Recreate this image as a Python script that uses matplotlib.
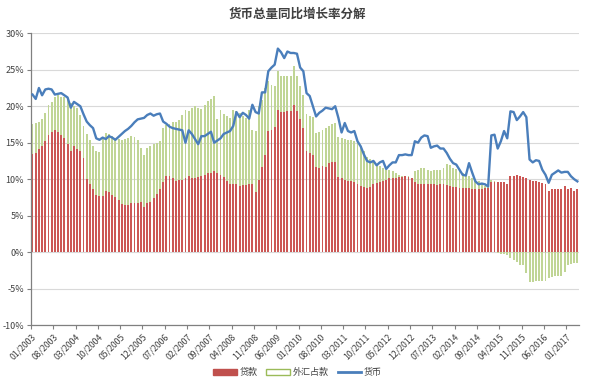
import numpy as np
import matplotlib
matplotlib.use("Agg")
import matplotlib.pyplot as plt
from matplotlib.patches import Patch
from matplotlib.lines import Line2D

plt.rcParams['font.family'] = ['Noto Sans CJK SC', 'DejaVu Sans']

# Monthly, 01/2003 .. 04/2017 (172 months)
loan = [13.4, 13.6, 14.2, 14.5, 15.2, 16.1, 16.4, 16.7, 16.4, 16.1, 15.7, 14.8,
        13.8, 14.5, 14.1, 13.9, 12.9, 10.0, 9.3, 8.6, 7.9, 7.7, 7.7, 8.4,
        8.3, 7.9, 7.6, 7.2, 6.6, 6.5, 6.5, 6.7, 6.8, 6.8, 6.9, 6.2,
        6.8, 6.9, 7.4, 8.0, 8.7, 9.6, 10.5, 10.4, 10.2, 9.8, 9.9, 9.9,
        10.1, 10.5, 10.2, 10.2, 10.3, 10.4, 10.6, 10.8, 10.8, 11.1, 10.9, 10.6,
        10.3, 9.7, 9.3, 9.3, 9.3, 9.0, 9.2, 9.2, 9.3, 9.3, 8.3, 9.9,
        11.7, 13.3, 16.6, 16.8, 17.2, 19.5, 19.2, 19.2, 19.3, 19.3, 20.2, 19.3,
        18.2, 17.0, 13.8, 13.6, 13.3, 11.7, 11.6, 11.8, 11.7, 12.2, 12.4, 12.4,
        10.3, 10.1, 9.9, 9.8, 9.7, 9.6, 9.3, 9.1, 8.9, 8.8, 8.9, 9.3,
        9.5, 9.6, 9.8, 9.9, 10.1, 10.2, 10.2, 10.3, 10.3, 10.4, 10.3, 10.1,
        9.6, 9.3, 9.3, 9.3, 9.3, 9.4, 9.3, 9.2, 9.3, 9.3, 9.2, 9.0,
        8.9, 8.9, 8.8, 8.8, 8.8, 8.8, 8.7, 8.7, 8.6, 8.7, 8.8, 8.8,
        9.6, 9.6, 9.6, 9.6, 9.6, 9.3, 10.4, 10.5, 10.6, 10.5, 10.3, 10.2,
        9.9, 9.8, 9.7, 9.6, 9.5, 9.3, 8.4, 8.6, 8.6, 8.7, 8.7, 9.0,
        8.6, 8.8, 8.4, 8.7]

fx = [4.1, 4.1, 3.7, 3.7, 3.9, 4.1, 4.2, 4.5, 5.1, 5.2, 5.5, 6.1,
      6.7, 5.6, 5.7, 4.9, 4.4, 6.2, 6.1, 5.9, 6.0, 6.0, 8.1, 7.9,
      7.9, 8.0, 8.0, 8.3, 8.8, 9.0, 9.2, 9.2, 9.0, 8.6, 7.4, 7.1,
      7.5, 7.7, 7.4, 7.0, 6.6, 7.4, 6.9, 7.2, 7.6, 8.1, 8.2, 8.9,
      9.4, 8.9, 9.6, 9.9, 9.5, 9.2, 9.6, 9.9, 10.2, 10.3, 7.3, 8.9,
      8.6, 9.0, 9.1, 10.2, 10.0, 10.1, 9.5, 9.2, 10.2, 7.5, 8.3, 10.1,
      9.2, 9.2, 6.8, 6.1, 5.6, 5.3, 5.0, 4.9, 4.8, 4.9, 5.3, 4.9,
      4.6, 4.5, 5.2, 5.1, 5.2, 4.6, 4.8, 4.9, 5.3, 5.1, 5.2, 5.3,
      5.5, 5.5, 5.6, 5.6, 5.7, 5.7, 5.9, 5.5, 4.9, 4.3, 3.8, 3.1,
      2.6, 2.2, 1.7, 1.4, 1.1, 0.9, 0.7, 0.3, 0.1, 0.1, 0.1, 0.1,
      1.5, 2.0, 2.2, 2.3, 2.0, 1.7, 1.9, 2.0, 1.9, 2.2, 2.9, 3.0,
      2.7, 2.5, 2.3, 2.0, 1.8, 1.6, 1.5, 1.2, 1.1, 0.6, 0.2, 0.1,
      0.3, 0.1, -0.1, -0.2, -0.3, -0.4, -0.8, -1.1, -1.3, -1.7, -1.8, -2.8,
      -4.1, -4.1, -4.0, -4.0, -4.0, -3.9, -3.6, -3.4, -3.3, -3.3, -3.3, -2.7,
      -1.7, -1.6, -1.5, -1.5]

money = [21.6, 21.0, 22.5, 21.5, 22.3, 22.4, 22.3, 21.6, 21.7, 21.8, 21.5, 21.2,
         19.8, 20.6, 20.3, 20.0, 18.9, 17.9, 17.4, 17.0, 15.6, 15.4, 15.7, 15.5,
         15.9, 15.7, 15.4, 15.8, 16.2, 16.6, 16.9, 17.3, 17.8, 18.2, 18.3, 18.4,
         18.8, 19.0, 18.7, 18.9, 19.0, 17.9, 17.6, 17.2, 17.0, 16.9, 16.8, 16.7,
         15.0, 16.7, 16.2, 15.5, 14.8, 15.9, 15.9, 16.2, 16.5, 15.0, 15.3, 15.6,
         16.2, 16.4, 16.6, 17.3, 19.2, 18.5, 19.1, 18.8, 18.3, 20.2, 19.2, 19.0,
         21.9, 21.9, 24.8, 25.3, 25.7, 27.9, 27.4, 26.6, 27.5, 27.3, 27.3, 27.2,
         25.3, 24.8, 21.8, 21.4, 20.0, 18.6, 19.1, 19.4, 19.8, 19.7, 19.6, 20.0,
         18.4, 16.4, 17.7, 16.6, 16.4, 16.6, 15.2, 14.5, 13.4, 12.5, 12.3, 12.5,
         11.9, 12.3, 12.5, 11.4, 11.9, 12.3, 12.3, 13.3, 13.3, 13.4, 13.3, 13.3,
         15.2, 15.0, 15.7, 16.0, 15.9, 14.3, 14.5, 14.6, 14.2, 14.2, 13.6, 12.8,
         12.2, 12.0, 11.3, 10.6, 10.5, 12.2, 10.9, 9.7, 9.3, 9.4, 9.3, 9.0,
         16.0, 16.1, 14.2, 15.2, 16.6, 15.6, 19.3, 19.2, 18.1, 18.6, 19.2, 18.5,
         12.7, 12.3, 12.6, 12.5, 11.3, 10.6, 9.5, 10.6, 10.9, 11.2, 10.9, 11.0,
         11.0, 10.4, 10.0, 9.7]

tick_labels = ['01/2003', '08/2003', '03/2004', '10/2004', '05/2005', '12/2005',
               '07/2006', '02/2007', '09/2007', '04/2008', '11/2008', '06/2009',
               '01/2010', '08/2010', '03/2011', '10/2011', '05/2012', '12/2012',
               '07/2013', '02/2014', '09/2014', '04/2015', '11/2015', '06/2016',
               '01/2017']
y_ticks = [-10, -5, 0, 5, 10, 15, 20, 25, 30]

loan_a = np.array(loan)
fx_a = np.array(fx)
money_a = np.array(money)
x = np.arange(len(loan_a))

fig = plt.figure(figsize=(5.95, 3.87), dpi=100)
ax = fig.add_axes([0.052, 0.160, 0.921, 0.754])

red_face = '#cc5755'
red_edge = '#c0504d'
green_face = '#c0d595'
blue = '#4a7ebb'

ax.bar(x, loan_a, width=0.6, color=red_face, linewidth=0, zorder=2)
fx_bottom = np.where(fx_a >= 0, loan_a, 0)
ax.bar(x, fx_a, bottom=fx_bottom, width=0.6, color=green_face, linewidth=0, zorder=2)
ax.plot(x, money_a, color=blue, linewidth=1.7, zorder=3, solid_joinstyle='round')

ax.set_xlim(-0.5, len(x) - 0.5)
ax.set_ylim(-10, 30)
ax.set_yticks(y_ticks)
ax.set_yticklabels([f'{v}%' for v in y_ticks], fontsize=6.5, color='#404040')
tick_pos = np.arange(0, len(x), 7) - 0.5
ax.set_xticks(tick_pos)
ax.set_xticklabels(tick_labels, rotation=45, ha='right', rotation_mode='anchor',
                   fontsize=6.3, color='#404040')
ax.tick_params(axis='x', length=3, width=0.8, color='#808080', pad=2)
ax.tick_params(axis='y', length=3, width=0.8, color='#808080', pad=2)

ax.grid(axis='y', color='#d9d9d9', linewidth=0.8, zorder=0)
ax.set_axisbelow(True)
for s in ['top', 'right']:
    ax.spines[s].set_visible(False)
ax.spines['left'].set_color('#808080')
ax.spines['bottom'].set_color('#808080')
ax.spines['left'].set_linewidth(0.9)
ax.spines['bottom'].set_linewidth(0.9)

fig.text(0.5, 0.962, '货币总量同比增长率分解', ha='center', va='center', fontsize=9,
         fontweight='bold', color='#404040')

handles = [Patch(facecolor=red_edge, edgecolor=red_edge),
           Patch(facecolor='white', edgecolor='#9bbb59', linewidth=1.0),
           Line2D([0], [0], color=blue, linewidth=2)]
fig.legend(handles, ['贷款', '外汇占款', '货币'], loc='center', bbox_to_anchor=(0.5, 0.038),
           ncol=3, frameon=False, fontsize=6.5, handlelength=2.6, handleheight=0.7,
           columnspacing=1.0, handletextpad=0.3, labelcolor='#404040')

fig.savefig('out.png', dpi=100)
